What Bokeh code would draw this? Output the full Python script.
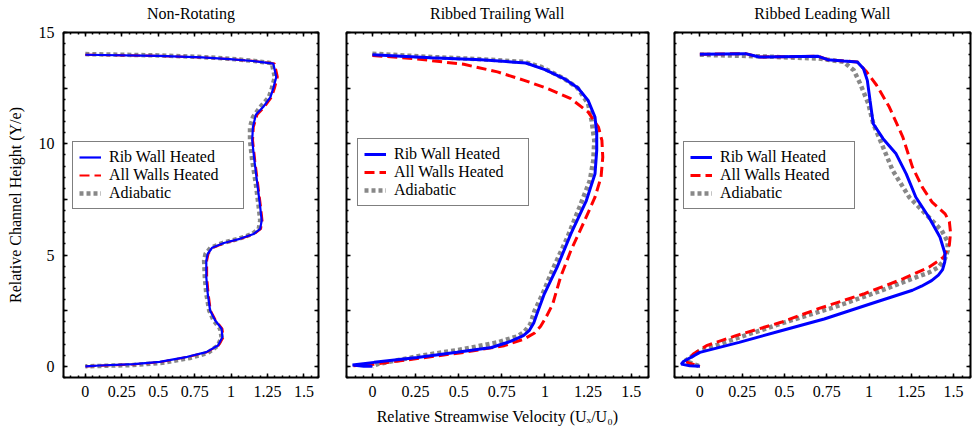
from bokeh.plotting import figure
from bokeh.layouts import row
from bokeh.models import (FixedTicker, LinearAxis, Range1d, CustomJSTickFormatter,
                          Legend, LegendItem, CustomLabelingPolicy)
from bokeh.embed import file_html
from bokeh.resources import INLINE

FONT = "Liberation Serif"

titles = ["Non-Rotating", "Ribbed Trailing Wall", "Ribbed Leading Wall"]
series_labels = ["Rib Wall Heated", "All Walls Heated", "Adiabatic"]
x_label = "Relative Streamwise Velocity (Uₓ/U₀)"
y_label = "Relative Channel Height (Y/e)"
x_ticks = [0, 0.25, 0.5, 0.75, 1.0, 1.25, 1.5]
x_minor = [round(-0.15 + 0.05 * i, 2) for i in range(36)]
y_ticks = [0, 2.5, 5, 7.5, 10, 12.5, 15]
y_minor = [round(-0.5 + 0.5 * i, 1) for i in range(32)]

# ---- Panel 1: Non-Rotating ----
nr_rib_x = [0, 0.5, 0.8, 0.99, 1.15, 1.29, 1.31, 1.29, 1.27, 1.22, 1.17, 1.15, 1.145, 1.16, 1.18, 1.20, 1.21, 1.20, 1.155, 1.06, 0.95, 0.87, 0.84, 0.83, 0.83, 0.84, 0.856, 0.89, 0.935, 0.94, 0.91, 0.83, 0.70, 0.51, 0.33, 0.10, 0]
nr_rib_y = [14.0, 13.95, 13.88, 13.8, 13.72, 13.6, 13.0, 12.5, 12.1, 11.65, 11.3, 10.75, 10.15, 9.25, 8.2, 7.15, 6.55, 6.18, 5.95, 5.73, 5.54, 5.33, 5.06, 4.76, 4.01, 3.26, 2.51, 2.07, 1.69, 1.31, 0.94, 0.64, 0.43, 0.2, 0.1, 0.04, 0]
nr_all_x = [0, 0.5, 0.8, 1.0, 1.16, 1.30, 1.32, 1.30, 1.28, 1.23, 1.18, 1.155, 1.15, 1.165, 1.185, 1.205, 1.215, 1.205, 1.16, 1.065, 0.955, 0.875, 0.845, 0.835, 0.835, 0.845, 0.86, 0.895, 0.94, 0.948, 0.915, 0.835, 0.70, 0.51, 0.33, 0.10, 0]
nr_all_y = [14.0, 13.95, 13.88, 13.8, 13.72, 13.6, 13.0, 12.5, 12.1, 11.65, 11.3, 10.75, 10.15, 9.25, 8.2, 7.15, 6.55, 6.18, 5.95, 5.73, 5.54, 5.33, 5.06, 4.76, 4.01, 3.26, 2.51, 2.07, 1.69, 1.31, 0.94, 0.64, 0.42, 0.19, 0.09, 0.03, 0]
nr_adi_x = [0, 0.5, 0.8, 0.99, 1.15, 1.28, 1.30, 1.28, 1.26, 1.20, 1.15, 1.13, 1.13, 1.145, 1.17, 1.19, 1.20, 1.19, 1.145, 1.05, 0.94, 0.86, 0.825, 0.815, 0.82, 0.83, 0.85, 0.88, 0.925, 0.935, 0.91, 0.84, 0.72, 0.53, 0.33, 0.10, 0]
nr_adi_y = [14.03, 13.97, 13.9, 13.82, 13.73, 13.62, 13.0, 12.5, 12.1, 11.65, 11.2, 10.75, 10.15, 9.25, 8.2, 7.15, 6.55, 6.18, 5.95, 5.73, 5.54, 5.33, 5.06, 4.76, 4.01, 3.26, 2.51, 2.07, 1.69, 1.31, 0.94, 0.6, 0.38, 0.16, 0.06, 0.02, 0]

# ---- Panel 2: Ribbed Trailing Wall ----
tr_rib_x = [0, 0.34, 0.63, 0.89, 1.0, 1.11, 1.19, 1.25, 1.29, 1.30, 1.30, 1.29, 1.24, 1.15, 1.07, 0.996, 0.957, 0.935, 0.91, 0.875, 0.80, 0.69, 0.49, 0.26, 0.01, -0.115, -0.05, 0]
tr_rib_y = [14.0, 13.87, 13.78, 13.63, 13.33, 12.93, 12.52, 11.95, 11.2, 10.45, 9.7, 8.65, 7.45, 5.95, 4.45, 3.25, 2.43, 1.95, 1.62, 1.38, 1.12, 0.85, 0.63, 0.4, 0.18, 0.06, 0.01, 0]
tr_all_x = [0, 0.24, 0.53, 0.725, 0.88, 1.015, 1.15, 1.25, 1.31, 1.33, 1.335, 1.325, 1.29, 1.23, 1.15, 1.09, 1.045, 1.006, 0.975, 0.94, 0.88, 0.764, 0.53, 0.24, 0.01, -0.11]
tr_all_y = [13.97, 13.83, 13.57, 13.23, 12.85, 12.48, 12.03, 11.43, 10.75, 10.15, 9.4, 8.5, 7.6, 6.55, 5.2, 4.0, 2.8, 2.2, 1.8, 1.5, 1.23, 0.93, 0.63, 0.33, 0.1, 0.03]
tr_adi_x = [0, 0.34, 0.63, 0.88, 0.98, 1.11, 1.19, 1.25, 1.27, 1.286, 1.28, 1.26, 1.20, 1.13, 1.05, 0.986, 0.94, 0.915, 0.88, 0.84, 0.725, 0.53, 0.28, 0.03, 0]
tr_adi_y = [14.05, 13.9, 13.8, 13.68, 13.45, 12.93, 12.5, 11.8, 11.05, 10.15, 9.25, 8.35, 7.15, 5.8, 4.45, 3.25, 2.5, 1.9, 1.55, 1.35, 1.08, 0.78, 0.48, 0.1, 0]

# ---- Panel 3: Ribbed Leading Wall ----
ld_rib_x = [0, 0.27, 0.35, 0.70, 0.755, 0.85, 0.93, 0.967, 0.99, 1.006, 1.025, 1.083, 1.16, 1.22, 1.277, 1.354, 1.42, 1.45, 1.448, 1.435, 1.41, 1.37, 1.31, 1.257, 1.006, 0.735, 0.48, 0.232, 0, -0.097, -0.11, -0.06, 0]
ld_rib_y = [14.02, 14.05, 13.9, 13.93, 13.78, 13.72, 13.68, 13.38, 12.85, 11.95, 10.9, 10.23, 9.55, 8.65, 7.6, 6.7, 5.8, 5.05, 4.7, 4.35, 4.1, 3.85, 3.6, 3.42, 2.8, 2.13, 1.6, 1.08, 0.63, 0.22, 0.1, 0.03, 0]
ld_all_x = [0, 0.27, 0.35, 0.70, 0.755, 0.85, 0.93, 0.986, 1.045, 1.12, 1.2, 1.257, 1.315, 1.373, 1.45, 1.475, 1.482, 1.475, 1.44, 1.354, 1.2, 0.967, 0.696, 0.48, 0.213, 0.039, -0.039, -0.077, 0]
ld_all_y = [14.02, 14.05, 13.9, 13.93, 13.78, 13.72, 13.68, 13.23, 12.63, 11.65, 10.3, 8.95, 8.05, 7.38, 6.85, 6.5, 6.0, 5.45, 4.9, 4.45, 3.93, 3.25, 2.58, 1.98, 1.38, 0.93, 0.55, 0.18, 0]
ld_adi_x = [0, 0.35, 0.70, 0.85, 0.91, 0.948, 0.996, 1.025, 1.083, 1.14, 1.238, 1.335, 1.43, 1.465, 1.465, 1.45, 1.41, 1.35, 1.277, 1.045, 0.79, 0.503, 0.232, 0, -0.087, 0]
ld_adi_y = [14.0, 13.93, 13.83, 13.68, 13.3, 12.7, 11.8, 10.9, 9.85, 8.8, 7.6, 6.85, 6.1, 5.6, 5.2, 4.85, 4.45, 4.2, 4.0, 3.33, 2.65, 1.98, 1.3, 0.7, 0.25, 0]

panels = [
    (nr_rib_x, nr_rib_y, nr_all_x, nr_all_y, nr_adi_x, nr_adi_y),
    (tr_rib_x, tr_rib_y, tr_all_x, tr_all_y, tr_adi_x, tr_adi_y),
    (ld_rib_x, ld_rib_y, ld_all_x, ld_all_y, ld_adi_x, ld_adi_y),
]

# layout: (fig width, min_border_left, min_border_right, legend x offset, legend y offset, line width)
layout = [
    (332, 63, 14, 9, 168, 2.2),
    (329, 14, 13, 11, 171, 3.0),
    (313, 13, 0, 9, 168, 3.0),
]

x_fmt = CustomJSTickFormatter(code="return tick.toString();")
y_fmt = CustomJSTickFormatter(code="return (Math.abs(tick % 5) < 1e-9) ? tick.toString() : '';")

no_labels_code = """
const result = new Set()
return result
"""
even_labels_code = """
const result = new Set()
for (const i of indices) {
    if (i % 2 == 0)
        result.add(i)
}
return result
"""

figs = []
for i, (data, lay) in enumerate(zip(panels, layout)):
    w, bl, br, lx, ly, lw = lay
    p = figure(width=w, height=434, output_backend="svg", toolbar_location=None,
               x_range=Range1d(-0.15, 1.6), y_range=Range1d(-0.5, 15),
               min_border_left=bl, min_border_right=br,
               min_border_top=32, min_border_bottom=57,
               x_axis_type=None, y_axis_type=None)
    p.title.text = ""
    p.title.visible = False
    p.outline_line_color = "black"
    p.outline_line_width = 2
    p.outline_line_alpha = 1
    p.background_fill_color = "white"
    p.border_fill_color = "white"

    xt = FixedTicker(ticks=x_ticks, minor_ticks=x_minor)
    yt = FixedTicker(ticks=y_ticks, minor_ticks=y_minor)

    def style_ticks(ax):
        ax.axis_line_color = None
        ax.major_tick_in = 4
        ax.major_tick_out = 0
        ax.minor_tick_in = 2
        ax.minor_tick_out = 0
        ax.major_tick_line_color = "black"
        ax.major_tick_line_width = 1.5
        ax.minor_tick_line_color = "black"
        ax.minor_tick_line_width = 1.5

    def hide_labels(ax):
        ax.major_label_policy = CustomLabelingPolicy(code=no_labels_code)
        ax.major_label_text_font_size = "1px"
        ax.major_label_standoff = 0

    for side in ["below", "above"]:
        ax = LinearAxis(ticker=xt, formatter=x_fmt)
        style_ticks(ax)
        if side == "below":
            ax.major_label_text_font = FONT
            ax.major_label_text_font_size = "16px"
            ax.major_label_text_color = "black"
            ax.major_label_standoff = 8
            if i == 1:
                ax.axis_label = x_label
                ax.axis_label_text_font = FONT
                ax.axis_label_text_font_size = "16px"
                ax.axis_label_text_font_style = "normal"
                ax.axis_label_text_color = "black"
                ax.axis_label_standoff = 8
        else:
            hide_labels(ax)
            # panel title drawn as the top axis label
            ax.axis_label = titles[i]
            ax.axis_label_text_font = FONT
            ax.axis_label_text_font_size = "16px"
            ax.axis_label_text_font_style = "normal"
            ax.axis_label_text_color = "black"
            ax.axis_label_standoff = 7
        p.add_layout(ax, side)

    for side in ["left", "right"]:
        ax = LinearAxis(ticker=yt, formatter=y_fmt)
        style_ticks(ax)
        if side == "left" and i == 0:
            ax.major_label_policy = CustomLabelingPolicy(code=even_labels_code)
            ax.major_label_text_font = FONT
            ax.major_label_text_font_size = "16px"
            ax.major_label_text_color = "black"
            ax.major_label_standoff = 9
            ax.axis_label = y_label
            ax.axis_label_text_font = FONT
            ax.axis_label_text_font_size = "16px"
            ax.axis_label_text_font_style = "normal"
            ax.axis_label_text_color = "black"
            ax.axis_label_standoff = 12
        else:
            hide_labels(ax)
        p.add_layout(ax, side)

    p.xgrid.ticker = xt
    p.ygrid.ticker = yt
    p.xgrid.grid_line_color = "#999999"
    p.ygrid.grid_line_color = "#999999"
    p.xgrid.grid_line_width = 1.2
    p.ygrid.grid_line_width = 1.2
    p.xgrid.grid_line_alpha = 1
    p.ygrid.grid_line_alpha = 1

    rx, ry, ax_, ay, dx, dy = data
    r_adi = p.line(dx, dy, line_color="#888888", line_width=4.5, line_dash="4 3")
    r_all = p.line(ax_, ay, line_color="#FF0000", line_width=lw, line_dash="10 5")
    r_rib = p.line(rx, ry, line_color="#0000FF", line_width=lw)

    leg = Legend(items=[LegendItem(label=series_labels[0], renderers=[r_rib]),
                        LegendItem(label=series_labels[1], renderers=[r_all]),
                        LegendItem(label=series_labels[2], renderers=[r_adi])],
                 location=(lx, ly))
    leg.label_text_font = FONT
    leg.label_text_font_size = "16px"
    leg.label_text_color = "black"
    leg.label_height = 14
    leg.glyph_height = 14
    leg.glyph_width = 22
    leg.label_standoff = 8
    leg.label_width = 128
    leg.spacing = 0
    leg.padding = 6
    leg.margin = 0
    leg.border_line_color = "black"
    leg.border_line_width = 1.5
    leg.background_fill_color = "white"
    leg.background_fill_alpha = 1
    p.add_layout(leg, "center")
    figs.append(p)

layout_row = row(*figs, spacing=0)
open("out.html", "w").write(file_html(layout_row, INLINE))
